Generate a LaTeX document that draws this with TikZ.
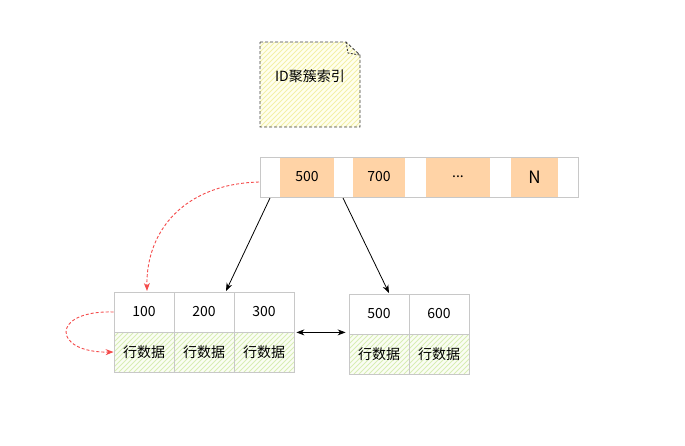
\documentclass[tikz,border=0pt]{standalone}
\usepackage{fontspec}
\setmainfont{Noto Sans CJK SC}
\usetikzlibrary{arrows.meta,calc}
\definecolor{boxgray}{HTML}{C8C8C8}
\definecolor{orangefill}{HTML}{FFD3A6}
\definecolor{greenhatch}{HTML}{D8EEB4}
\definecolor{greenbg}{HTML}{FAFDF4}
\definecolor{yellowhatch}{HTML}{F3F0A8}
\definecolor{yellowbg}{HTML}{FFFFEE}
\definecolor{redline}{HTML}{F44A4A}
\tikzset{
  hatch/.style={path picture={
      \foreach \i in {-125,-120,...,125}
        \draw[#1, line width=0.9pt] ($(path picture bounding box.south west)+(\i,0)$) -- ++(130,-130);
    }},
  cell/.style={draw=boxgray, line width=0.8pt, inner sep=0pt, font=\fontsize{14}{14}\selectfont},
  keycell/.style={cell, fill=white, minimum width=60pt, minimum height=40pt},
  rowcell/.style={cell, minimum width=60pt, minimum height=40pt, fill=greenbg, hatch=greenhatch},
  orangecell/.style={fill=orangefill, draw=none, inner sep=0pt, minimum height=39pt, font=\fontsize{14}{14}\selectfont},
  blackarrow/.style={-{Stealth[length=8pt,width=6pt]}, line width=0.8pt},
  redarrow/.style={-{Stealth[length=8pt,width=6pt]}, redline, dashed, dash pattern=on 3pt off 2pt, line width=0.9pt},
}
\begin{document}
\begin{tikzpicture}[x=1pt,y=-1pt]
\useasboundingbox (0,0) rectangle (685,445);
% note
\path[fill=yellowbg, hatch=yellowhatch]
  (260,42) -- (346,42) -- (360,55) -- (360,127) -- (260,127) -- cycle;
\draw[dashed, dash pattern=on 3pt off 2pt, line width=0.9pt, draw=black!75]
  (260,42) -- (346,42) -- (360,55) -- (360,127) -- (260,127) -- cycle;
\draw[dashed, dash pattern=on 2pt off 1.5pt, line width=0.9pt, draw=black!75] (346,42) -- (348,53) -- (360,55);
\node[font=\fontsize{14}{14}\selectfont] (note) at (310,76) {ID聚簇索引};
% top row
\node[draw=boxgray, line width=0.8pt, fill=white, minimum width=318pt, minimum height=40pt, inner sep=0pt] (top) at (419,177) {};
\node[orangecell, minimum width=54pt] (k1) at (307,177) {500};
\node[orangecell, minimum width=52pt] (k2) at (379,177) {700};
\node[orangecell, minimum width=64pt] (k3) at (458,177) {...};
\node[orangecell, minimum width=47pt, font=\fontsize{17}{17}\selectfont] (k4) at (534.5,177) {N};
% left leaf
\node[keycell] (a1) at (144,312) {100};
\node[keycell] (a2) at (204,312) {200};
\node[keycell] (a3) at (264,312) {300};
\node[rowcell] (d1) at (144,352) {行数据};
\node[rowcell] (d2) at (204,352) {行数据};
\node[rowcell] (d3) at (264,352) {行数据};
% right leaf
\node[keycell] (b1) at (379,314) {500};
\node[keycell] (b2) at (439,314) {600};
\node[rowcell] (e1) at (379,354) {行数据};
\node[rowcell] (e2) at (439,354) {行数据};
% connectors
\coordinate (s1) at (270,198);
\coordinate (s2) at (343,198);
\coordinate (t1) at (226,291);
\coordinate (t2) at (389,293);
\draw[blackarrow] (s1) -- (t1);
\draw[blackarrow] (s2) -- (t2);
\draw[{Stealth[length=8pt,width=6pt]}-{Stealth[length=8pt,width=6pt]}, line width=0.8pt] ($(a3.south east)+(2,0)$) -- ($(b1.south west)+(-3,-2)$);
\coordinate (r1) at (259,182);
\coordinate (r1e) at (147,291);
\draw[redarrow] (r1) .. controls (185,184) and (146,230) .. (r1e);
\draw[redarrow] (a1.west) .. controls (50,310) and (52,353) .. (d1.west);
\end{tikzpicture}
\end{document}
